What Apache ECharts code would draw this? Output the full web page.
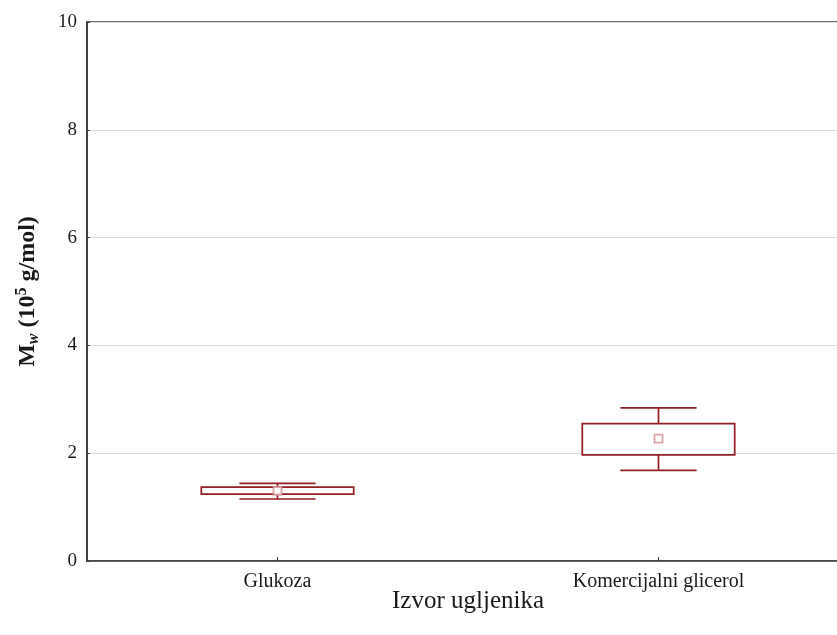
<!DOCTYPE html>
<html>
<head>
<meta charset="utf-8">
<script src="https://cdn.jsdelivr.net/npm/echarts@6/dist/echarts.min.js"></script>
<style>
  html, body { margin: 0; padding: 0; background: #fff; overflow: hidden; }
  #chart { width: 849px; height: 635px; }
</style>
</head>
<body>
<div id="chart"></div>
<script>
// Carbon source categories
const categories = ['Glukoza', 'Komercijalni glicerol'];
// Whisker ends, box edges and mean of Mw (10^5 g/mol)
const whiskerLow  = [1.15, 1.68];
const boxLow      = [1.24, 1.97];
const boxHigh     = [1.37, 2.55];
const whiskerHigh = [1.44, 2.84];
const means       = [1.30, 2.27];
// Value axis ticks
const yTicks = [0, 2, 4, 6, 8, 10];

const FONT = '"Liberation Serif", "Times New Roman", serif';
const BOX_COLOR = '#921d23';
const AXIS_COLOR = '#3c3c3c';

const boxData = categories.map((c, i) => [i, whiskerLow[i], boxLow[i], boxHigh[i], whiskerHigh[i]]);
const meanData = categories.map((c, i) => [i, means[i]]);

function renderBox(params, api) {
  const x = api.value(0);
  const lo = api.coord([x, api.value(1)]);
  const q1 = api.coord([x, api.value(2)]);
  const q3 = api.coord([x, api.value(3)]);
  const hi = api.coord([x, api.value(4)]);
  const band = api.size([1, 0])[0];
  const cx = lo[0];
  const bw = band * 0.4;
  const cw = band * 0.2;
  const stroke = { stroke: BOX_COLOR, lineWidth: 1.7, fill: null };
  return {
    type: 'group',
    children: [
      { type: 'line', shape: { x1: cx, y1: hi[1], x2: cx, y2: q3[1] }, style: stroke },
      { type: 'line', shape: { x1: cx, y1: q1[1], x2: cx, y2: lo[1] }, style: stroke },
      { type: 'line', shape: { x1: cx - cw / 2, y1: hi[1], x2: cx + cw / 2, y2: hi[1] }, style: stroke },
      { type: 'line', shape: { x1: cx - cw / 2, y1: lo[1], x2: cx + cw / 2, y2: lo[1] }, style: stroke },
      { type: 'rect', shape: { x: cx - bw / 2, y: q3[1], width: bw, height: q1[1] - q3[1] },
        style: { fill: '#ffffff', stroke: BOX_COLOR, lineWidth: 1.7 } }
    ]
  };
}

const chart = echarts.init(document.getElementById('chart'), null, { renderer: 'canvas' });
chart.setOption({
  animation: false,
  backgroundColor: '#ffffff',
  textStyle: { fontFamily: FONT },
  grid: {
    left: 87, top: 22, bottom: 74, right: 0,
    show: true, borderColor: AXIS_COLOR, borderWidth: 1.6, backgroundColor: 'transparent'
  },
  xAxis: {
    type: 'category',
    data: categories,
    name: 'Izvor ugljenika',
    nameLocation: 'middle',
    nameGap: 28,
    nameMoveOverlap: false,
    nameTextStyle: { fontFamily: FONT, fontSize: 25, color: '#1a1a1a' },
    axisLine: { lineStyle: { color: AXIS_COLOR, width: 1.6 } },
    axisTick: { show: true, inside: true, alignWithLabel: true, length: 4, lineStyle: { color: AXIS_COLOR } },
    axisLabel: { fontFamily: FONT, fontSize: 20, color: '#1a1a1a', margin: 11 },
    splitLine: { show: false }
  },
  yAxis: {
    type: 'value',
    min: yTicks[0],
    max: yTicks[yTicks.length - 1],
    interval: yTicks[1] - yTicks[0],
    name: '{b|M}{sub|w}{b| (10}{sup|5}{b| g/mol)}',
    nameLocation: 'middle',
    nameRotate: 90,
    nameGap: 45,
    nameTextStyle: {
      color: '#1a1a1a',
      rich: {
        b:   { fontFamily: FONT, fontSize: 24, fontWeight: 'bold', color: '#1a1a1a', lineHeight: 28, verticalAlign: 'middle' },
        sub: { fontFamily: FONT, fontSize: 16, fontWeight: 'bold', fontStyle: 'italic', color: '#1a1a1a', lineHeight: 28, verticalAlign: 'bottom' },
        sup: { fontFamily: FONT, fontSize: 16, fontWeight: 'bold', color: '#1a1a1a', lineHeight: 28, verticalAlign: 'top' }
      }
    },
    axisLine: { show: true, lineStyle: { color: AXIS_COLOR, width: 1.6 } },
    axisTick: { show: true, inside: true, length: 3, lineStyle: { color: AXIS_COLOR } },
    axisLabel: { fontFamily: FONT, fontSize: 19, color: '#1a1a1a', margin: 10 },
    splitLine: { show: true, lineStyle: { color: '#d9d9d9', width: 1 } }
  },
  series: [
    {
      type: 'custom',
      renderItem: renderBox,
      data: boxData,
      encode: { x: 0, y: [1, 2, 3, 4] },
      z: 2
    },
    {
      type: 'scatter',
      data: meanData,
      symbol: 'rect',
      symbolSize: 8,
      itemStyle: { color: '#ffffff', borderColor: '#cf8f95', borderWidth: 1.8 },
      z: 3
    }
  ]
});
</script>
</body>
</html>
